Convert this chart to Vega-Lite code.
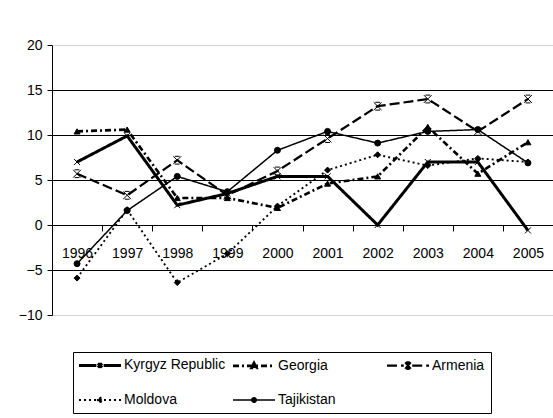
{
  "$schema": "https://vega.github.io/schema/vega-lite/v6.json",
  "width": 501,
  "height": 270,
  "autosize": "none",
  "padding": {"left": 52, "top": 45, "right": 0, "bottom": 103},
  "background": "white",
  "config": {
    "view": {"stroke": null},
    "font": "Liberation Sans, Arial, sans-serif"
  },
  "data": {
    "values": [
      {"country": "Kyrgyz Republic", "year": "1996", "value": 7.0},
      {"country": "Kyrgyz Republic", "year": "1997", "value": 9.9},
      {"country": "Kyrgyz Republic", "year": "1998", "value": 2.2},
      {"country": "Kyrgyz Republic", "year": "1999", "value": 3.5},
      {"country": "Kyrgyz Republic", "year": "2000", "value": 5.4},
      {"country": "Kyrgyz Republic", "year": "2001", "value": 5.4},
      {"country": "Kyrgyz Republic", "year": "2002", "value": 0.0},
      {"country": "Kyrgyz Republic", "year": "2003", "value": 7.0},
      {"country": "Kyrgyz Republic", "year": "2004", "value": 7.0},
      {"country": "Kyrgyz Republic", "year": "2005", "value": -0.6},
      {"country": "Georgia", "year": "1996", "value": 10.4},
      {"country": "Georgia", "year": "1997", "value": 10.6},
      {"country": "Georgia", "year": "1998", "value": 3.0},
      {"country": "Georgia", "year": "1999", "value": 3.0},
      {"country": "Georgia", "year": "2000", "value": 1.9},
      {"country": "Georgia", "year": "2001", "value": 4.6},
      {"country": "Georgia", "year": "2002", "value": 5.4},
      {"country": "Georgia", "year": "2003", "value": 10.9},
      {"country": "Georgia", "year": "2004", "value": 5.7},
      {"country": "Georgia", "year": "2005", "value": 9.2},
      {"country": "Armenia", "year": "1996", "value": 5.7},
      {"country": "Armenia", "year": "1997", "value": 3.3},
      {"country": "Armenia", "year": "1998", "value": 7.2},
      {"country": "Armenia", "year": "1999", "value": 3.3},
      {"country": "Armenia", "year": "2000", "value": 6.0},
      {"country": "Armenia", "year": "2001", "value": 9.6},
      {"country": "Armenia", "year": "2002", "value": 13.2},
      {"country": "Armenia", "year": "2003", "value": 14.0},
      {"country": "Armenia", "year": "2004", "value": 10.4},
      {"country": "Armenia", "year": "2005", "value": 14.0},
      {"country": "Moldova", "year": "1996", "value": -5.9},
      {"country": "Moldova", "year": "1997", "value": 1.7},
      {"country": "Moldova", "year": "1998", "value": -6.4},
      {"country": "Moldova", "year": "1999", "value": -3.2},
      {"country": "Moldova", "year": "2000", "value": 2.1},
      {"country": "Moldova", "year": "2001", "value": 6.1},
      {"country": "Moldova", "year": "2002", "value": 7.8},
      {"country": "Moldova", "year": "2003", "value": 6.6},
      {"country": "Moldova", "year": "2004", "value": 7.4},
      {"country": "Moldova", "year": "2005", "value": 7.0},
      {"country": "Tajikistan", "year": "1996", "value": -4.3},
      {"country": "Tajikistan", "year": "1997", "value": 1.6},
      {"country": "Tajikistan", "year": "1998", "value": 5.4},
      {"country": "Tajikistan", "year": "1999", "value": 3.7},
      {"country": "Tajikistan", "year": "2000", "value": 8.3},
      {"country": "Tajikistan", "year": "2001", "value": 10.4},
      {"country": "Tajikistan", "year": "2002", "value": 9.1},
      {"country": "Tajikistan", "year": "2003", "value": 10.4},
      {"country": "Tajikistan", "year": "2004", "value": 10.6},
      {"country": "Tajikistan", "year": "2005", "value": 6.9}
    ]
  },
  "encoding": {
    "x": {
      "field": "year",
      "type": "ordinal",
      "bandPosition": 0.5,
      "scale": {"type": "band", "paddingInner": 0, "paddingOuter": 0},
      "axis": {
        "title": null,
        "orient": "bottom",
        "offset": -90,
        "tickBand": "extent",
        "labelAngle": 0,
        "domainColor": "black",
        "domainWidth": 1,
        "tickColor": "black",
        "tickSize": 6,
        "labelPadding": 15,
        "labelFontSize": 14,
        "labelColor": "black",
        "grid": false
      }
    },
    "y": {
      "field": "value",
      "type": "quantitative",
      "scale": {"domain": [-10, 20], "nice": false, "zero": false},
      "axis": {
        "title": null,
        "values": [-10, -5, 0, 5, 10, 15, 20],
        "domainColor": "black",
        "tickColor": "black",
        "tickSize": 5,
        "labelPadding": 5,
        "labelFontSize": 14,
        "labelColor": "black",
        "grid": true,
        "gridColor": {"condition": {"test": "datum.value == 20 || datum.value == -10", "value": "#d4d4d4"}, "value": "black"},
        "gridWidth": 1
      }
    }
  },
  "layer": [
    {
      "mark": {"type": "line", "color": "black"},
      "encoding": {
        "strokeDash": {
          "field": "country",
          "type": "nominal",
          "scale": {
            "domain": ["Kyrgyz Republic", "Georgia", "Armenia", "Moldova", "Tajikistan"],
            "range": [[1, 0], [6, 3, 2, 3], [10, 4], [2, 3], [1, 0]]
          },
          "legend": {
            "orient": "none",
            "legendX": 21,
            "legendY": 307,
            "title": null,
            "direction": "horizontal",
            "columns": 3,
            "gridAlign": "all",
            "symbolType": "M-7,0L7,0",
            "symbolSize": 36,
            "symbolOffset": 14,
            "symbolStrokeColor": "black",
            "symbolStrokeWidth": 1.5,
            "labelFontSize": 14,
            "labelColor": "black",
            "labelOffset": 17,
            "columnPadding": 1,
            "rowPadding": 19,
            "padding": 6,
            "strokeColor": "black",
            "encode": {
              "symbols": {
                "update": {
                  "shape": {"signal": "datum.value === 'Kyrgyz Republic' ? 'M-7,0L-1.2,0M1.2,0L7,0M-0.7,-0.7L0.7,0.7M0.7,-0.7L-0.7,0.7' : datum.value === 'Georgia' ? 'M-7,0L7,0M0,-1L0.85,0.7L-0.85,0.7Z' : datum.value === 'Armenia' ? 'M-7,0L-1.4,0M1.4,0L7,0M-0.9,-1.1L0.9,1.1M0.9,-1.1L-0.9,1.1M-0.5,-1.1L0.5,-1.1M-0.5,1.1L0.5,1.1' : datum.value === 'Moldova' ? 'M-7,0L7,0M0,-1L0.75,0L0,1L-0.75,0Z' : 'M-7,0L7,0M-0.75,0A0.75,0.75 0 1,0 0.75,0A0.75,0.75 0 1,0 -0.75,0Z'"},
                  "strokeWidth": {"signal": "datum.value === 'Kyrgyz Republic' ? 3 : datum.value === 'Tajikistan' ? 1.2 : 1.5"},
                  "stroke": {"value": "black"},
                  "fill": {"value": "black"}
                }
              }
            }
          }
        },
        "strokeWidth": {
          "field": "country",
          "type": "nominal",
          "scale": {
            "domain": ["Kyrgyz Republic", "Georgia", "Armenia", "Moldova", "Tajikistan"],
            "range": [3, 1.5, 1.2, 1.5, 1.2]
          },
          "legend": null
        }
      }
    },
    {
      "mark": {"type": "point", "filled": true, "fill": "black", "stroke": "black", "strokeWidth": 1, "size": 36, "opacity": 1},
      "encoding": {
        "shape": {
          "field": "country",
          "type": "nominal",
          "sort": ["Kyrgyz Republic", "Georgia", "Armenia", "Moldova", "Tajikistan"],
          "scale": {
            "range": [
              "M-1,-1L1,1M1,-1L-1,1",
              "triangle-up",
              "M-1.3,-1.3L1.3,1.3M1.3,-1.3L-1.3,1.3M-0.8,-1.3L0.8,-1.3M-0.8,1.3L0.8,1.3",
              "diamond",
              "circle"
            ]
          },
          "legend": null
        }
      }
    }
  ]
}
